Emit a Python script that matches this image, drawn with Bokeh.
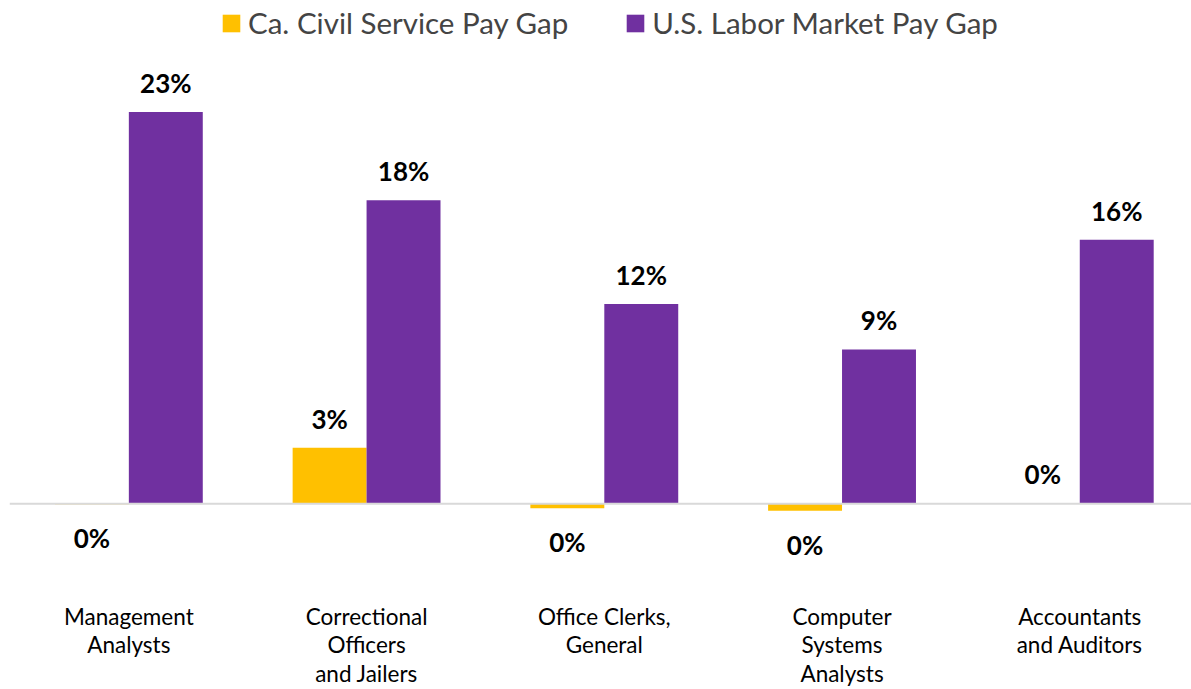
from bokeh.plotting import figure
from bokeh.models import ColumnDataSource, Range1d, FixedTicker, Span, Legend, LegendItem
from bokeh.transform import dodge
from bokeh.core.properties import value
from bokeh.embed import file_html
from bokeh.resources import INLINE

categories = ["Management\nAnalysts", "Correctional\nOfficers\nand Jailers",
              "Office Clerks,\nGeneral", "Computer\nSystems\nAnalysts",
              "Accountants\nand Auditors"]
series_names = ["Ca. Civil Service Pay Gap", "U.S. Labor Market Pay Gap"]
ca_civil = [-0.02, 3.3, -0.26, -0.41, 0.02]
us_market = [23.04, 17.86, 11.76, 9.08, 15.53]

YELLOW = "#FFC000"
PURPLE = "#7030A0"
FONT = "Lato"

idx = list(range(len(categories)))

def make_src(vals):
    return ColumnDataSource(dict(
        x=idx,
        y=vals,
        label=[f"{round(v):.0f}%" for v in vals],
        off=[-29 if v >= 0 else 34 for v in vals],
    ))

src_ca = make_src(ca_civil)
src_us = make_src(us_market)

p = figure(width=1191, height=689, output_backend="svg", toolbar_location=None,
           x_range=Range1d(-0.502, 4.470), y_range=Range1d(-3.571, 29.606),
           min_border_left=9, min_border_right=0, min_border_top=0, min_border_bottom=100)
p.outline_line_color = None
p.xgrid.visible = False
p.ygrid.visible = False
p.yaxis.visible = False
p.background_fill_color = "white"
p.border_fill_color = "white"

bw = 0.311
r_ca = p.vbar(x=dodge("x", -bw / 2), top="y", width=bw, source=src_ca,
              fill_color=YELLOW, line_color=None)
r_us = p.vbar(x=dodge("x", bw / 2), top="y", width=bw, source=src_us,
              fill_color=PURPLE, line_color=None)

p.add_layout(Span(location=0, dimension="width", line_color="#d9d9d9", line_width=2))

for src, d in ((src_ca, -bw / 2), (src_us, bw / 2)):
    p.text(x=dodge("x", d), y="y", text="label", y_offset="off", source=src,
           text_align="center", text_baseline="middle",
           text_font=value(FONT), text_font_style="bold",
           text_font_size="26px", text_color="black")

ax = p.xaxis[0]
ax.ticker = FixedTicker(ticks=idx)
ax.major_label_overrides = {i: c for i, c in zip(idx, categories)}
ax.axis_line_color = None
ax.major_tick_line_color = None
ax.minor_tick_line_color = None
ax.major_label_text_font = FONT
ax.major_label_text_font_size = "22.5px"
ax.major_label_text_line_height = 1.056
ax.major_label_text_color = "black"
ax.major_label_standoff = 32

legend = Legend(items=[LegendItem(label=series_names[0], renderers=[r_ca]),
                       LegendItem(label=series_names[1], renderers=[r_us])],
                location=(211, 524), orientation="horizontal",
                glyph_width=22, glyph_height=22, label_standoff=6, spacing=56,
                label_text_font=FONT, label_text_font_size="29.5px",
                border_line_color=None, background_fill_alpha=0,
                margin=0, padding=0)
p.add_layout(legend)

open("out.html", "w").write(file_html(p, INLINE))
